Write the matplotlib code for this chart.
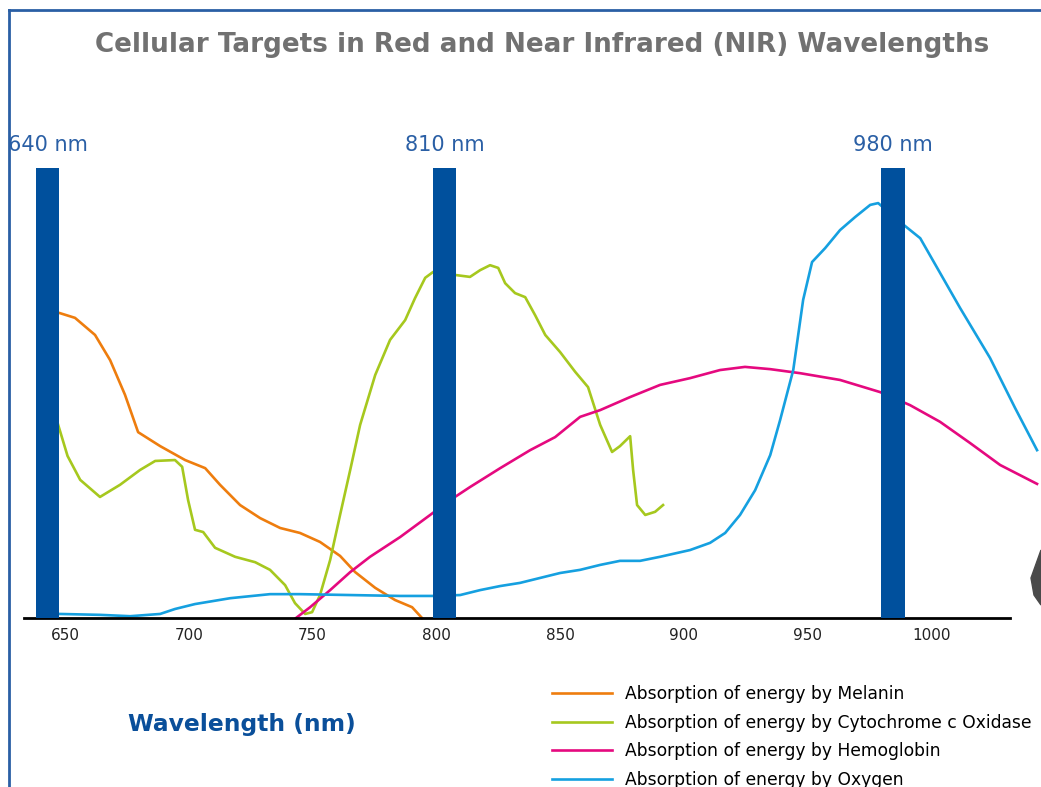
import matplotlib.pyplot as plt
from matplotlib.lines import Line2D
from matplotlib.patches import Polygon

# wavelength (nm) / relative absorption (0..1, 1 = top of the marker bars)
melanin_nm = [645, 647.6, 654, 662.1, 668.2, 674.2, 679.5, 688.4, 698.5, 706.6, 712.6, 720.7,
              728.8, 736.9, 744.9, 753, 761.1, 767.2, 775.3, 783.3, 790.2, 794.2]
melanin = [0.68, 0.678, 0.667, 0.629, 0.573, 0.496, 0.413, 0.382, 0.351, 0.333, 0.296, 0.251,
           0.222, 0.2, 0.189, 0.169, 0.138, 0.102, 0.067, 0.04, 0.024, 0.0]

cco_nm = [645, 647.6, 651, 656.1, 664.1, 672.2, 680.3, 686.4, 694.4, 697.3, 699.7, 702.5, 705.8,
          710.6, 718.7, 726.8, 732.8, 738.9, 742.9, 747, 749.8, 753, 757.1, 761.1, 765.2,
          769.2, 775.3, 781.3, 787.4, 791.4, 795.5, 798.7, 808, 813.6, 817.7, 821.7, 825,
          827.8, 831.8, 835.9, 839.9, 844, 850, 856.1, 861.3, 866.2, 871, 874.2, 878.3,
          879.5, 881.1, 884.4, 888.4, 891.6]
cco = [0.47, 0.422, 0.36, 0.307, 0.269, 0.296, 0.329, 0.349, 0.351, 0.336, 0.262, 0.196, 0.191,
       0.156, 0.136, 0.124, 0.107, 0.073, 0.033, 0.009, 0.013, 0.051, 0.129, 0.229, 0.329,
       0.429, 0.540, 0.618, 0.662, 0.711, 0.756, 0.769, 0.762, 0.758, 0.773, 0.784, 0.778,
       0.744, 0.722, 0.713, 0.673, 0.629, 0.591, 0.547, 0.513, 0.429, 0.369, 0.382, 0.404,
       0.329, 0.251, 0.229, 0.236, 0.251]

hb_nm = [743.3, 749, 757.1, 765.2, 773.2, 785.4, 797.5, 805.6, 813.6, 825.8, 837.9, 848, 858.1,
         866.2, 878.3, 890.4, 902.5, 914.6, 924.7, 934.9, 947, 963.1, 979.3, 991.4, 1003.5,
         1015.6, 1027.8, 1042.7]
hb = [0.0, 0.024, 0.062, 0.102, 0.136, 0.180, 0.229, 0.262, 0.291, 0.333, 0.373, 0.402, 0.447,
      0.462, 0.491, 0.518, 0.533, 0.551, 0.558, 0.553, 0.544, 0.529, 0.502, 0.473, 0.436,
      0.389, 0.340, 0.298]

oxy_nm = [645, 647.6, 664.1, 676.3, 688.4, 694.4, 702.5, 716.7, 732.8, 744.9, 765.2, 785.4,
          798.7, 809.6, 817.7, 825.8, 833.8, 841.9, 850, 858.1, 866.2, 874.2, 882.3, 890.4,
          902.5, 910.6, 916.7, 922.7, 928.8, 934.9, 938.9, 944.2, 948.2, 951.8, 957.1, 963.1,
          969.2, 975.3, 978.5, 989.4, 995.5, 1003.5, 1011.6, 1023.7, 1033.8, 1042.7]
oxy = [0.009, 0.009, 0.007, 0.004, 0.009, 0.02, 0.031, 0.044, 0.053, 0.053, 0.051, 0.049,
       0.049, 0.051, 0.062, 0.071, 0.078, 0.089, 0.1, 0.107, 0.118, 0.127, 0.127, 0.136,
       0.151, 0.167, 0.189, 0.229, 0.284, 0.362, 0.440, 0.551, 0.707, 0.791, 0.822, 0.862,
       0.891, 0.918, 0.922, 0.871, 0.844, 0.767, 0.689, 0.578, 0.467, 0.373]

bar_pos = [642.9, 803.3, 984.5]
bar_labels = ["640 nm", "810 nm", "980 nm"]
ticks = [650, 700, 750, 800, 850, 900, 950, 1000]

blue = '#00509D'

fig = plt.figure(figsize=(10.41, 7.87), dpi=100)
ax = fig.add_axes([24 / 1041, (787 - 618) / 787, 1 - 24 / 1041, 450 / 787])
ax.set_xlim(633.4, 1044.3)
ax.set_ylim(0, 1)

l1, = ax.plot(melanin_nm, melanin, c='#EE7D0E', lw=1.9, label="Absorption of energy by Melanin")
l2, = ax.plot(cco_nm, cco, c='#A6C81E', lw=1.9, label="Absorption of energy by Cytochrome c Oxidase")
l3, = ax.plot(hb_nm, hb, c='#E5097F', lw=1.9, label="Absorption of energy by Hemoglobin")
l4, = ax.plot(oxy_nm, oxy, c='#15A0E0', lw=1.9, label="Absorption of energy by Oxygen")
for l in (l1, l2, l3, l4):
    l.set_clip_on(False)

ax.bar(bar_pos, [1] * 3, width=9.5, color=blue, zorder=5)
for p, s in zip(bar_pos, bar_labels):
    ax.text(p, 1.028, s, ha='center', va='bottom', fontsize=15, color='#2A5FA5')

for s in ['top', 'right', 'left']:
    ax.spines[s].set_visible(False)
ax.spines['bottom'].set_linewidth(2)
ax.spines['bottom'].set_bounds(633.4, 1031.8)
ax.set_yticks([])
ax.set_xticks(ticks)
ax.tick_params(axis='x', length=0, pad=7, labelsize=11, labelcolor='#222222')

fig.text(542 / 1041, 1 - 45 / 787, "Cellular Targets in Red and Near Infrared (NIR) Wavelengths",
         ha='center', va='center', fontsize=18.9, fontweight='bold', color='#717171')
fig.text(242 / 1041, 1 - 725 / 787, "Wavelength (nm)", ha='center', va='center',
         fontsize=16.8, fontweight='bold', color='#0A4F9A')

# last row runs off the bottom edge, as in the original slide crop
fig.legend(handles=[l1, l2, l3, l4], loc='upper left', bbox_to_anchor=(552 / 1041, 1 - 685 / 787),
           frameon=False, fontsize=12.3, handlelength=3.5, handletextpad=0.76, labelspacing=0.625,
           borderaxespad=0, borderpad=0)

# slide frame
fig.add_artist(Line2D([9 / 1041, 9 / 1041], [0, 1 - 10 / 787], color='#2A5FA5', lw=2))
fig.add_artist(Line2D([9 / 1041, 1], [1 - 10 / 787, 1 - 10 / 787], color='#2A5FA5', lw=2))
# bit of the device photo at the right edge
fig.add_artist(Polygon([[1041 / 1041, 1 - 550 / 787], [1031 / 1041, 1 - 578 / 787],
                        [1034 / 1041, 1 - 595 / 787], [1041 / 1041, 1 - 605 / 787]],
                       closed=True, color='#4a4a4a', transform=fig.transFigure))

plt.savefig("out.png", dpi=100)
